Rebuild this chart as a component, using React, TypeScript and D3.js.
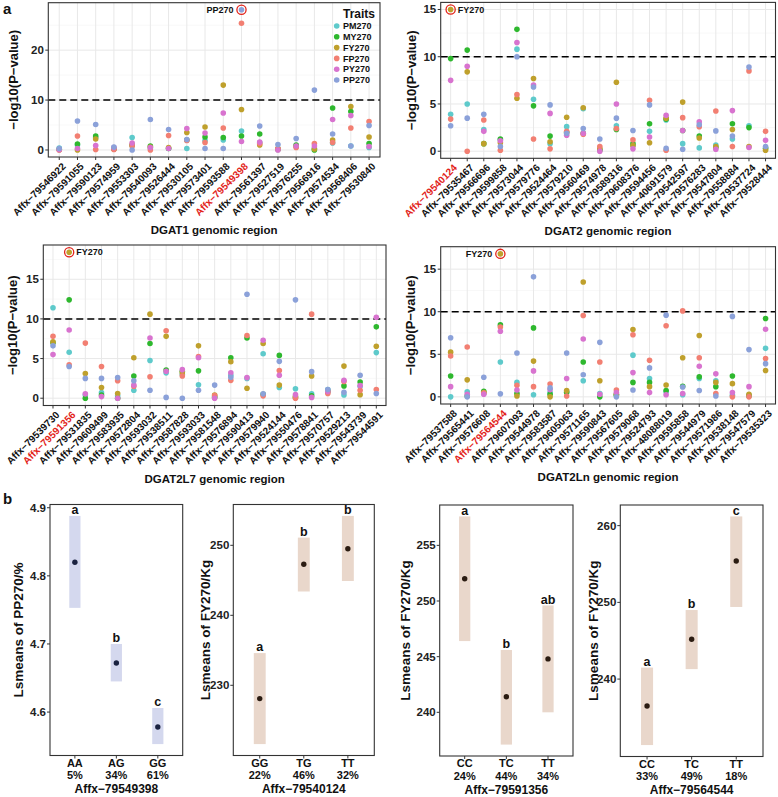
import React from 'react';
import * as d3 from 'd3';

const FONT = "'Liberation Sans', Arial, Helvetica, sans-serif";

const TRAITS = ['PM270', 'MY270', 'FY270', 'FP270', 'PY270', 'PP270'];
const TRAIT_COLORS = ['#5ECACB', '#2EB82E', '#BFA02C', '#F27F72', '#D873CF', '#8BA1D9'];

// ---------- DGAT1 ----------
const dgat1Snps = ['Affx−79546922', 'Affx−79591055', 'Affx−79590123', 'Affx−79574959', 'Affx−79553303', 'Affx−79540093', 'Affx−79526444', 'Affx−79530105', 'Affx−79573401', 'Affx−79593588', 'Affx−79549398', 'Affx−79561397', 'Affx−79527519', 'Affx−79576255', 'Affx−79566916', 'Affx−79574534', 'Affx−79568406', 'Affx−79530840'];
const dgat1PM = [0.4, 1.0, 2.5, 0.3, 2.5, 0.4, 0.3, 0.3, 1.9, 2.0, 3.8, 1.5, 0.3, 0.8, 0.3, 1.4, 0.8, 0.5];
const dgat1MY = [0.1, 1.2, 2.8, 0.2, 0.9, 0.8, 0.3, 2.0, 2.6, 2.5, 2.8, 3.2, 0.1, 1.0, 0.0, 8.4, 7.7, 1.3];
const dgat1FY = [0.1, 0.0, 2.2, 0.2, 1.1, 0.6, 0.5, 3.5, 4.6, 13.0, 8.1, 1.0, 0.2, 0.7, 0.2, 2.0, 8.7, 2.6];
const dgat1FP = [0.0, 2.8, 0.1, 0.1, 0.8, 0.0, 2.9, 1.9, 1.5, 4.4, 25.4, 1.3, 0.3, 0.5, 1.3, 1.5, 4.4, 5.7];
const dgat1PY = [0.1, 0.3, 0.9, 0.5, 1.4, 0.5, 0.3, 4.3, 3.4, 7.4, 1.7, 1.6, 0.0, 0.8, 0.8, 6.1, 6.9, 0.7];
const dgat1PP = [0.3, 5.8, 5.1, 0.6, 0.0, 6.1, 4.1, 2.1, 0.3, 0.3, 28.1, 4.8, 1.1, 2.3, 12.0, 3.2, 0.8, 4.9];

// ---------- DGAT2 ----------
const dgat2Snps = ['Affx−79540124', 'Affx−79535467', 'Affx−79566696', 'Affx−79599858', 'Affx−79573044', 'Affx−79579776', 'Affx−79524464', 'Affx−79579210', 'Affx−79560469', 'Affx−79574978', 'Affx−79589316', 'Affx−79608376', 'Affx−79594456', 'Affx−40691579', 'Affx−79542597', 'Affx−79576283', 'Affx−79547804', 'Affx−79558884', 'Affx−79537724', 'Affx−79528444'];
const dgat2PM = [3.9, 5.0, 2.3, 1.2, 10.8, 5.5, 0.8, 2.6, 4.5, 0.2, 2.7, 0.6, 2.1, 3.3, 0.8, 0.35, 0.65, 1.3, 2.7, 0.35];
const dgat2MY = [9.8, 10.7, 0.8, 1.3, 12.9, 4.8, 1.6, 2.0, 1.9, 0.1, 2.3, 0.8, 2.9, 3.4, 2.2, 1.6, 0.4, 2.9, 2.5, 0.3];
const dgat2FY = [15.0, 8.4, 0.8, 0.9, 5.6, 7.7, 1.0, 3.6, 4.6, 0.25, 7.3, 0.6, 0.9, 3.5, 5.2, 1.4, 0.5, 2.3, 0.5, 0.1];
const dgat2FP = [3.4, 0.0, 3.3, 0.1, 6.0, 1.3, 0.25, 2.1, 1.8, 0.5, 2.4, 1.2, 5.4, 0.1, 3.55, 2.6, 4.25, 0.5, 8.5, 2.1];
const dgat2PY = [7.5, 9.0, 2.1, 1.1, 11.5, 7.0, 4.0, 1.7, 1.9, 0.0, 5.0, 0.25, 1.5, 3.8, 2.2, 3.1, 0.2, 4.3, 0.4, 1.15];
const dgat2PP = [2.7, 3.5, 3.9, 0.5, 10.0, 6.8, 4.9, 1.9, 2.4, 1.3, 3.5, 2.2, 4.9, 0.3, 0.2, 2.8, 2.15, 1.6, 8.9, 0.5];

// ---------- DGAT2L7 ----------
const l7Snps = ['Affx−79539730', 'Affx−79591356', 'Affx−79531835', 'Affx−79609499', 'Affx−79583935', 'Affx−79572804', 'Affx−79593032', 'Affx−79538511', 'Affx−79587828', 'Affx−79593033', 'Affx−79581548', 'Affx−79576894', 'Affx−79590413', 'Affx−79579940', 'Affx−79524144', 'Affx−79550476', 'Affx−79578841', 'Affx−79570757', 'Affx−79529213', 'Affx−79543739', 'Affx−79544591'];
const l7PM = [11.4, 5.8, 0.4, 0.7, 0.3, 1.0, 4.75, 3.2, 3.0, 1.7, 0.2, 2.9, 2.5, 5.6, 1.35, 1.2, 0.55, 1.1, 0.4, 1.5, 5.75];
const l7MY = [7.0, 12.4, 0.0, 0.4, 0.0, 2.8, 6.9, 3.55, 3.4, 3.45, 0.1, 5.1, 7.6, 0.5, 5.4, 0.1, 0.3, 0.8, 1.55, 2.05, 9.0];
const l7FY = [7.1, 18.4, 3.1, 1.35, 0.6, 5.1, 10.6, 7.8, 3.2, 6.6, 0.4, 4.6, 1.25, 6.9, 1.65, 0.2, 2.8, 0.9, 4.05, 0.45, 6.55];
const l7FP = [7.8, 4.2, 6.95, 4.0, 2.2, 1.5, 2.7, 8.5, 2.8, 5.25, 0.35, 2.25, 7.9, 0.3, 3.5, 0.0, 10.6, 0.6, 2.1, 1.0, 1.1];
const l7PY = [5.5, 8.6, 0.55, 0.2, 0.0, 1.65, 7.6, 3.4, 3.6, 5.1, 0.0, 3.2, 2.6, 7.3, 2.9, 0.45, 0.1, 0.85, 2.25, 1.6, 10.2];
const l7PP = [6.6, 4.0, 2.5, 2.5, 2.6, 2.2, 1.0, 0.1, 0.0, 1.0, 1.65, 2.65, 13.1, 0.55, 4.65, 12.4, 3.35, 1.1, 0.75, 2.9, 0.6];

// ---------- DGAT2Ln ----------
const lnSnps = ['Affx−79537588', 'Affx−79565441', 'Affx−79576608', 'Affx−79564544', 'Affx−79607093', 'Affx−79544978', 'Affx−79583587', 'Affx−79605063', 'Affx−79571165', 'Affx−79590843', 'Affx−79567605', 'Affx−79579068', 'Affx−79524793', 'Affx−48088019', 'Affx−79595858', 'Affx−79544979', 'Affx−79571986', 'Affx−79538148', 'Affx−79547579', 'Affx−79535323'];
const lnPM = [0.0, 0.6, 0.4, 4.1, 1.7, 0.25, 0.5, 0.6, 1.9, 0.4, 0.3, 4.9, 2.15, 0.6, 0.25, 2.15, 1.9, 0.2, 0.2, 5.7];
const lnMY = [2.45, 0.1, 0.65, 8.45, 0.4, 8.1, 0.3, 0.5, 4.1, 0.0, 0.2, 1.7, 1.7, 0.75, 1.25, 2.35, 1.2, 2.45, 0.1, 9.2];
const lnFY = [5.25, 2.0, 0.5, 16.8, 0.1, 4.2, 0.0, 0.75, 13.5, 1.9, 0.3, 7.9, 1.2, 1.4, 4.6, 7.2, 1.7, 1.55, 0.3, 3.1];
const lnFP = [4.8, 5.85, 0.45, 8.2, 1.35, 1.2, 1.5, 0.1, 9.55, 4.1, 0.8, 7.3, 4.3, 8.35, 10.1, 4.6, 0.4, 0.0, 0.0, 4.5];
const lnPY = [1.2, 0.3, 0.3, 7.7, 0.8, 3.05, 0.85, 2.15, 6.8, 0.3, 0.5, 2.85, 0.5, 0.25, 0.4, 3.6, 2.7, 0.5, 1.2, 7.95];
const lnPP = [6.95, 0.0, 2.3, 0.35, 5.15, 14.1, 1.05, 5.15, 2.6, 6.4, 0.0, 0.8, 3.4, 9.6, 1.15, 0.75, 0.1, 9.45, 5.55, 3.9];

const yTicks1 = [0, 10, 20];
const yTicks2 = [0, 5, 10, 15];

// ---------- panel b ----------
const b1Geno = ['AA', 'AG', 'GG'];
const b1Freq = ['5%', '34%', '61%'];
const b1Mean = [4.82, 4.672, 4.578];
const b1Low = [4.753, 4.645, 4.553];
const b1High = [4.888, 4.700, 4.606];
const b1Letter = ['a', 'b', 'c'];
const b1Ticks = [4.6, 4.7, 4.8, 4.9];

const b2Geno = ['GG', 'TG', 'TT'];
const b2Freq = ['22%', '46%', '32%'];
const b2Mean = [228.1, 247.3, 249.5];
const b2Low = [221.6, 243.4, 244.9];
const b2High = [234.6, 251.1, 254.2];
const b2Letter = ['a', 'b', 'b'];
const b2Ticks = [230, 240, 250];

const b3Geno = ['CC', 'TC', 'TT'];
const b3Freq = ['24%', '44%', '34%'];
const b3Mean = [252.0, 241.4, 244.8];
const b3Low = [246.4, 237.1, 240.0];
const b3High = [257.6, 245.6, 249.6];
const b3Letter = ['a', 'b', 'ab'];
const b3Ticks = [240, 245, 250, 255];

const b4Geno = ['CC', 'TC', 'TT'];
const b4Freq = ['33%', '49%', '18%'];
const b4Mean = [236.5, 245.2, 255.4];
const b4Low = [231.4, 241.3, 249.4];
const b4High = [241.5, 249.0, 261.2];
const b4Letter = ['a', 'b', 'c'];
const b4Ticks = [240, 250, 260];

const BORDER = '#333333';

type MProps = {
  x0: number; x1: number; y0: number; y1: number;
  snps: string[]; series: number[][]; ticks: number[];
  hiIdx: number; hiTrait: number; hiSide: 'left' | 'right';
  title: string; titleX: number; legend?: boolean;
};

function Manhattan(p: MProps) {
  const all = p.series.flat();
  const mx = d3.max(all) as number;
  const mn = Math.min(0, d3.min(all) as number);
  const pad = (mx - mn) * 0.05;
  const y = d3.scaleLinear().domain([mn - pad, mx + pad]).range([p.y1, p.y0]);
  const x = d3.scalePoint<string>().domain(p.snps).range([p.x0, p.x1]).padding(0.6);
  const step = p.ticks[1] - p.ticks[0];
  const minor: number[] = [];
  for (let v = p.ticks[0] - step / 2; v <= mx + pad; v += step) {
    if (v > mn - pad) minor.push(v);
  }
  const hx = x(p.snps[p.hiIdx]) as number;
  const hy = y(p.series[p.hiTrait][p.hiIdx]);
  return (
    <g fontFamily={FONT} fontWeight="bold">
      <rect x={p.x0} y={p.y0} width={p.x1 - p.x0} height={p.y1 - p.y0} fill="#fff" />
      {minor.map((v, i) => (
        <line key={'mn' + i} x1={p.x0} x2={p.x1} y1={y(v)} y2={y(v)} stroke="#F3F3F3" strokeWidth={0.6} />
      ))}
      {p.ticks.map((v, i) => (
        <line key={'mj' + i} x1={p.x0} x2={p.x1} y1={y(v)} y2={y(v)} stroke="#E8E8E8" strokeWidth={1} />
      ))}
      {p.snps.map((s, i) => (
        <line key={'vg' + i} x1={x(s)} x2={x(s)} y1={p.y0} y2={p.y1} stroke="#E8E8E8" strokeWidth={1} />
      ))}
      <line x1={p.x0} x2={p.x1} y1={y(10)} y2={y(10)} stroke="#000" strokeWidth={1.5} strokeDasharray="7,4" />
      {p.series.map((ser, t) =>
        ser.map((v, i) => (
          <circle key={t + '-' + i} cx={x(p.snps[i])} cy={y(v)} r={2.8} fill={TRAIT_COLORS[t]} />
        ))
      )}
      <circle cx={hx} cy={hy} r={4.6} fill="none" stroke="#E2231A" strokeWidth={1.3} />
      <text x={p.hiSide === 'left' ? hx - 8 : hx + 7} y={hy + 3.2} fontSize={9}
        textAnchor={p.hiSide === 'left' ? 'end' : 'start'} fill="#111">{TRAITS[p.hiTrait]}</text>
      <rect x={p.x0} y={p.y0} width={p.x1 - p.x0} height={p.y1 - p.y0} fill="none" stroke={BORDER} strokeWidth={1.1} />
      {p.ticks.map((v, i) => (
        <g key={'yt' + i}>
          <line x1={p.x0 - 3} x2={p.x0} y1={y(v)} y2={y(v)} stroke={BORDER} strokeWidth={1} />
          <text x={p.x0 - 4.5} y={y(v) + 4} fontSize={11.5} textAnchor="end" fill="#222">{v}</text>
        </g>
      ))}
      {p.snps.map((s, i) => (
        <g key={'xt' + i}>
          <line x1={x(s)} x2={x(s)} y1={p.y1} y2={p.y1 + 3} stroke={BORDER} strokeWidth={1} />
          <text transform={`translate(${(x(s) as number) + 2},${p.y1 + 5}) rotate(-45)`} fontSize={10}
            textAnchor="end" dy="0.72em" fill={i === p.hiIdx ? '#E2231A' : '#111'}>{s}</text>
        </g>
      ))}
      <text x={(p.x0 + p.x1) / 2} y={p.y1 + 77} fontSize={11.5} textAnchor="middle" fill="#111">{p.title}</text>
      <text transform={`translate(${p.titleX},${(p.y0 + p.y1) / 2}) rotate(-90)`} fontSize={13} textAnchor="middle" fill="#111">−log10(P−value)</text>
      {p.legend && (
        <g>
          <text x={343} y={18} fontSize={12} fill="#111">Traits</text>
          {TRAITS.map((t, i) => (
            <g key={t}>
              <circle cx={336.7} cy={26 + i * 10.8} r={2.8} fill={TRAIT_COLORS[i]} />
              <text x={343} y={26 + i * 10.8 + 3.2} fontSize={9} fill="#111">{t}</text>
            </g>
          ))}
        </g>
      )}
    </g>
  );
}

type BProps = {
  x0: number; x1: number; y0: number; y1: number;
  geno: string[]; freq: string[]; mean: number[]; low: number[]; high: number[];
  letters: string[]; ticks: number[]; yTitle: string; xTitle: string;
  titleX: number; barColor: string; dotColor: string;
};

function LsPanel(p: BProps) {
  const lo = d3.min(p.low) as number;
  const hi = d3.max(p.high) as number;
  const pad = (hi - lo) * 0.05;
  const y = d3.scaleLinear().domain([lo - pad, hi + pad]).range([p.y1, p.y0]);
  const x = d3.scalePoint<string>().domain(p.geno).range([p.x0, p.x1]).padding(0.6);
  const bw = x.step() * 0.27;
  return (
    <g fontFamily={FONT} fontWeight="bold">
      {p.geno.map((g, i) => (
        <g key={g}>
          <rect x={(x(g) as number) - bw / 2} y={y(p.high[i])} width={bw} height={y(p.low[i]) - y(p.high[i])} fill={p.barColor} />
          <circle cx={x(g)} cy={y(p.mean[i])} r={2.7} fill={p.dotColor} />
          <text x={x(g)} y={y(p.high[i]) - 1.8} fontSize={12.5} textAnchor="middle" fill="#111">{p.letters[i]}</text>
          <line x1={x(g)} x2={x(g)} y1={p.y1} y2={p.y1 + 3} stroke={BORDER} />
          <text x={x(g)} y={p.y1 + 11} fontSize={11} textAnchor="middle" fill="#111">{g}</text>
          <text x={x(g)} y={p.y1 + 23.5} fontSize={11} textAnchor="middle" fill="#111">{p.freq[i]}</text>
        </g>
      ))}
      <rect x={p.x0} y={p.y0} width={p.x1 - p.x0} height={p.y1 - p.y0} fill="none" stroke={BORDER} strokeWidth={1.1} />
      {p.ticks.map((v, i) => (
        <g key={'t' + i}>
          <line x1={p.x0 - 3} x2={p.x0} y1={y(v)} y2={y(v)} stroke={BORDER} />
          <text x={p.x0 - 4} y={y(v) + 4} fontSize={11.5} textAnchor="end" fill="#222">{v}</text>
        </g>
      ))}
      <text x={(p.x0 + p.x1) / 2} y={p.y1 + 37.5} fontSize={12} textAnchor="middle" fill="#111">{p.xTitle}</text>
      <text transform={`translate(${p.titleX},${(p.y0 + p.y1) / 2}) rotate(-90)`} fontSize={13.5} textAnchor="middle" fill="#111">{p.yTitle}</text>
    </g>
  );
}

export default function App() {
  return (
    <svg width={778} height={797} style={{ position: 'absolute', left: 0, top: 0, background: '#fff' }}>
      <rect width={778} height={797} fill="#fff" />
      <text x={3} y={14} fontFamily={FONT} fontWeight="bold" fontSize={15} fill="#111">a</text>
      <text x={3} y={504} fontFamily={FONT} fontWeight="bold" fontSize={15} fill="#111">b</text>
      <Manhattan x0={48.3} x1={380} y0={2.7} y1={157} snps={dgat1Snps}
        series={[dgat1PM, dgat1MY, dgat1FY, dgat1FP, dgat1PY, dgat1PP]} ticks={yTicks1}
        hiIdx={10} hiTrait={5} hiSide="left" title="DGAT1 genomic region" titleX={18} legend />
      <Manhattan x0={440.7} x1={775.5} y0={2.4} y1={158.3} snps={dgat2Snps}
        series={[dgat2PM, dgat2MY, dgat2FY, dgat2FP, dgat2PY, dgat2PP]} ticks={yTicks2}
        hiIdx={0} hiTrait={2} hiSide="right" title="DGAT2 genomic region" titleX={415.5} />
      <Manhattan x0={43.3} x1={386} y0={245} y1={405.5} snps={l7Snps}
        series={[l7PM, l7MY, l7FY, l7FP, l7PY, l7PP]} ticks={yTicks2}
        hiIdx={1} hiTrait={2} hiSide="right" title="DGAT2L7 genomic region" titleX={17} />
      <Manhattan x0={440.7} x1={775.5} y0={246.7} y1={404} snps={lnSnps}
        series={[lnPM, lnMY, lnFY, lnFP, lnPY, lnPP]} ticks={yTicks2}
        hiIdx={3} hiTrait={2} hiSide="left" title="DGAT2Ln genomic region" titleX={415} />
      <LsPanel x0={50} x1={182.7} y0={504.5} y1={755.5} geno={b1Geno} freq={b1Freq} mean={b1Mean}
        low={b1Low} high={b1High} letters={b1Letter} ticks={b1Ticks} yTitle="Lsmeans of PP270/%"
        xTitle="Affx−79549398" titleX={23} barColor="#D4D8EE" dotColor="#1B2341" />
      <LsPanel x0={233.3} x1={374.3} y0={504.5} y1={755.5} geno={b2Geno} freq={b2Freq} mean={b2Mean}
        low={b2Low} high={b2High} letters={b2Letter} ticks={b2Ticks} yTitle="Lsmeans of FY270/Kg"
        xTitle="Affx−79540124" titleX={210} barColor="#E9D7CB" dotColor="#2B1C12" />
      <LsPanel x0={439.7} x1={573} y0={505} y1={756} geno={b3Geno} freq={b3Freq} mean={b3Mean}
        low={b3Low} high={b3High} letters={b3Letter} ticks={b3Ticks} yTitle="Lsmeans of FY270/Kg"
        xTitle="Affx−79591356" titleX={410} barColor="#E9D7CB" dotColor="#2B1C12" />
      <LsPanel x0={620.3} x1={763} y0={505} y1={756.5} geno={b4Geno} freq={b4Freq} mean={b4Mean}
        low={b4Low} high={b4High} letters={b4Letter} ticks={b4Ticks} yTitle="Lsmeans of FY270/Kg"
        xTitle="Affx−79564544" titleX={598} barColor="#E9D7CB" dotColor="#2B1C12" />
    </svg>
  );
}
